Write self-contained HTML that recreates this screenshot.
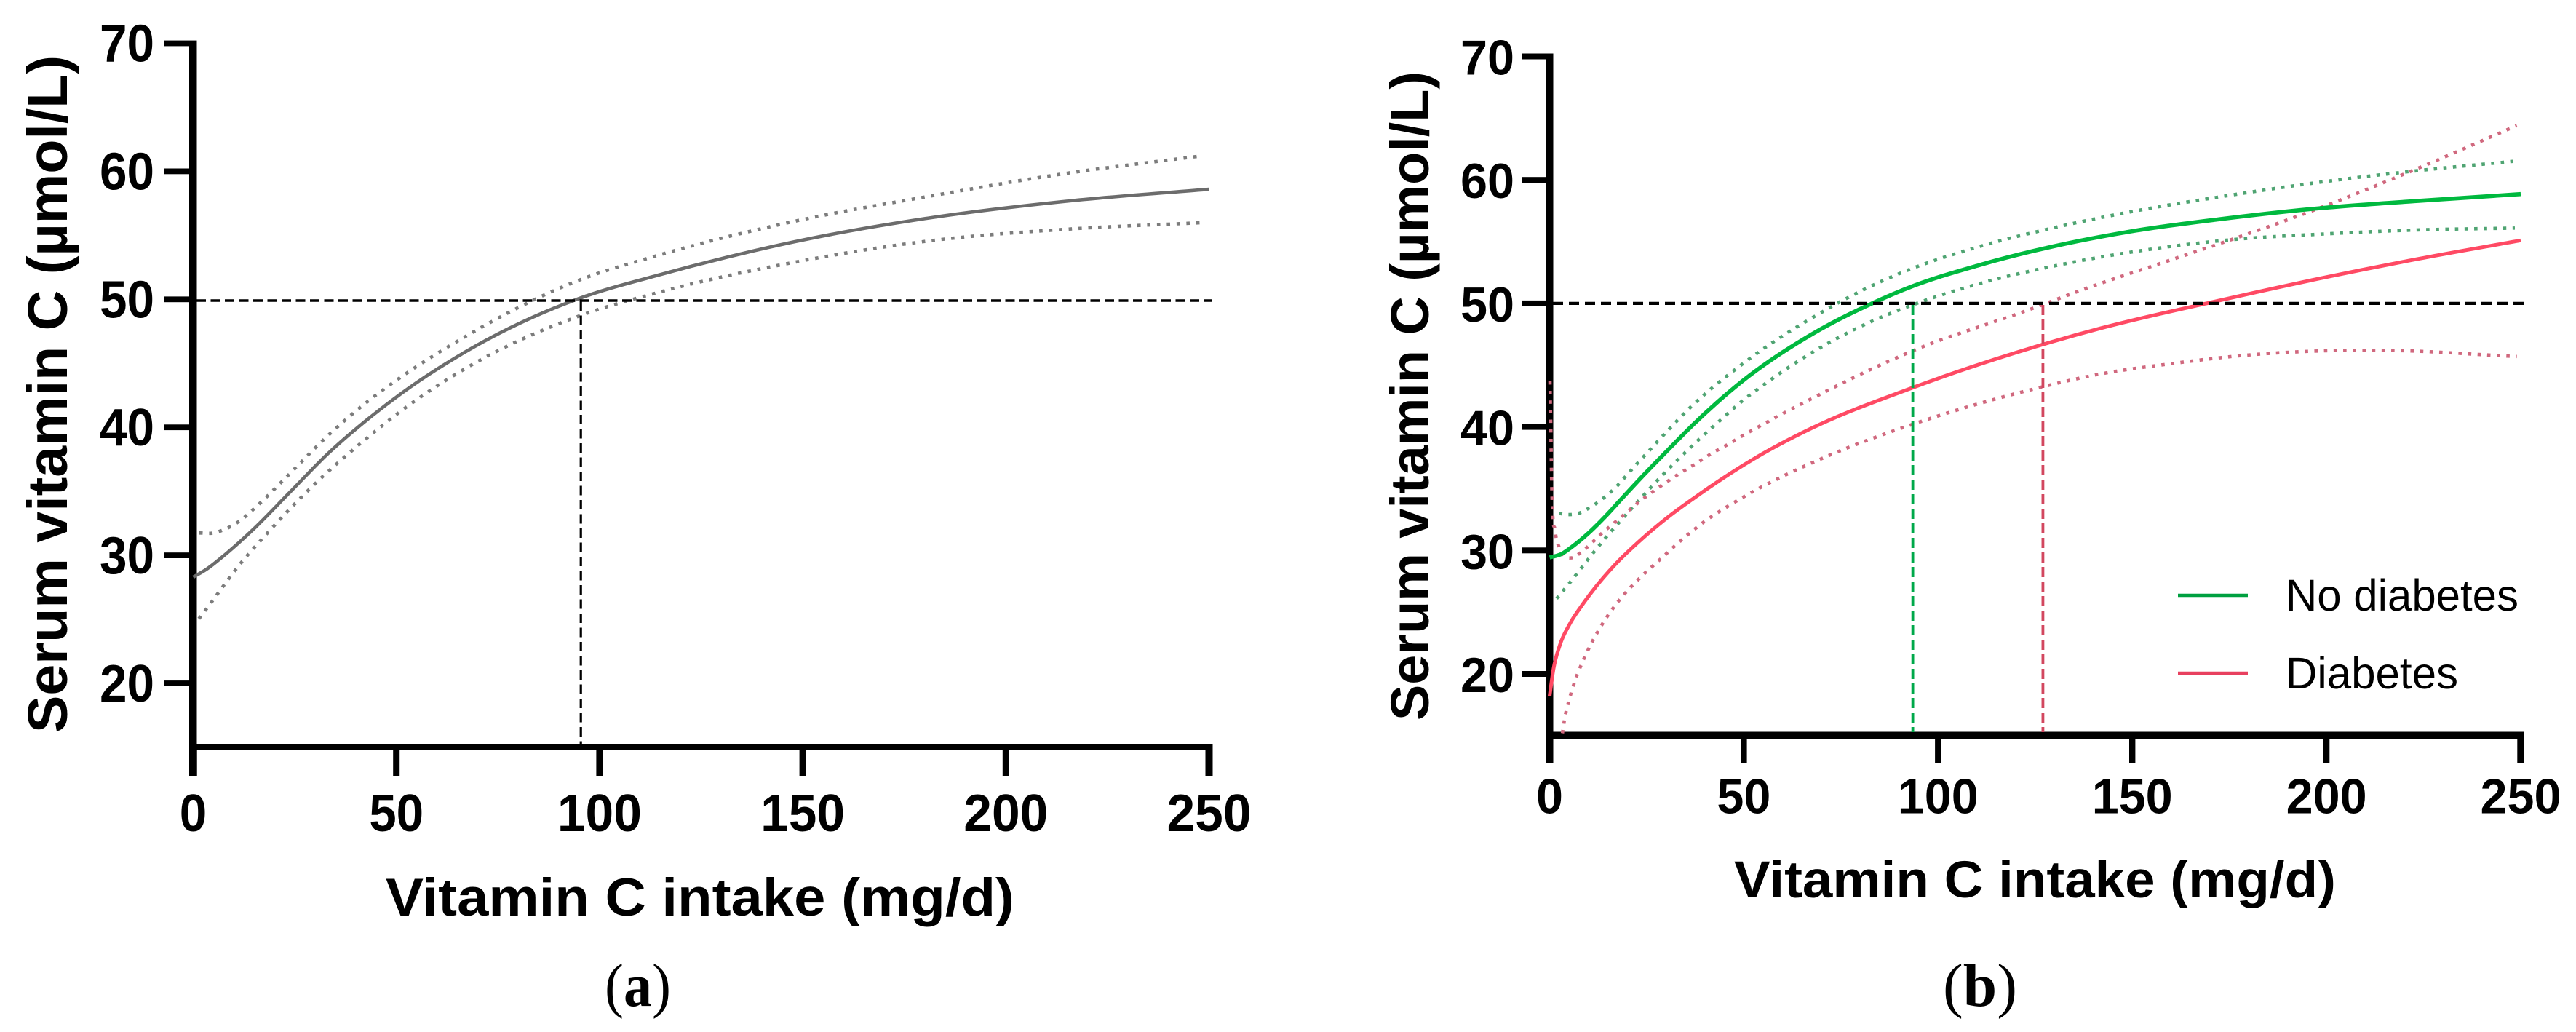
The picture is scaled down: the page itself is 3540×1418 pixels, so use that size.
<!DOCTYPE html>
<html lang="en">
<head>
<meta charset="utf-8">
<title>Serum vitamin C vs vitamin C intake</title>
<style>
html,body{margin:0;padding:0;background:#fff;}
svg{display:block;}
text{font-family:"Liberation Sans",Arial,sans-serif;fill:#000;}
.cap{font-family:"Liberation Serif","Times New Roman",serif;}
</style>
</head>
<body>
<svg id="root" xmlns="http://www.w3.org/2000/svg" width="3540" height="1418" viewBox="0 0 3540 1418">
  <rect width="3540" height="1418" fill="#fff"/>
  <g id="panelA"></g>
  <g id="panelB"></g>

  <text x="92" y="1007" transform="rotate(-90 92 1007)" font-size="77" font-weight="700" textLength="931" lengthAdjust="spacingAndGlyphs">Serum vitamin C (µmol/L)</text>
  <text x="530" y="1258" font-size="73" font-weight="700" textLength="864" lengthAdjust="spacingAndGlyphs">Vitamin C intake (mg/d)</text>
  <text class="cap" x="831" y="1382" font-size="84" textLength="91" lengthAdjust="spacingAndGlyphs">(<tspan font-weight="700">a</tspan>)</text>

  <text x="1963" y="990" transform="rotate(-90 1963 990)" font-size="74" font-weight="700" textLength="892" lengthAdjust="spacingAndGlyphs">Serum vitamin C (µmol/L)</text>
  <text x="2383" y="1233" font-size="71" font-weight="700" textLength="827" lengthAdjust="spacingAndGlyphs">Vitamin C intake (mg/d)</text>
  <text class="cap" x="2670" y="1382" font-size="84" textLength="102" lengthAdjust="spacingAndGlyphs">(<tspan font-weight="700">b</tspan>)</text>

  <line x1="2993" y1="818" x2="3089" y2="818" stroke="#00a040" stroke-width="4.5"/>
  <text x="3141" y="839" font-size="61" textLength="320" lengthAdjust="spacingAndGlyphs">No diabetes</text>
  <line x1="2993" y1="925" x2="3089" y2="925" stroke="#e8405f" stroke-width="4.5"/>
  <text x="3141" y="946" font-size="61" textLength="237" lengthAdjust="spacingAndGlyphs">Diabetes</text>
</svg>

<script>
// Shared axis data
const xTickValues = [0, 50, 100, 150, 200, 250];
const yTickValues = [20, 30, 40, 50, 60, 70];
const yFloor = 15;
const referenceLevel = 50;

// Panel (a) data
const aMeanX = [0, 3.2, 8, 15, 24, 33, 44, 51, 67, 95, 114, 131.5, 148, 182, 216, 250];
const aMeanY = [28.3, 28.9, 30.1, 32.1, 35, 37.9, 40.9, 42.6, 45.9, 50.07, 51.85, 53.3, 54.5, 56.4, 57.7, 58.6];
const aUpperX = [1.5, 5, 7.5, 11.5, 15.5, 21, 26, 31, 39, 47, 51, 67, 95, 114, 148, 182, 214, 248];
const aUpperY = [31.75, 31.75, 32, 32.7, 33.8, 35.5, 37.1, 38.7, 41, 43, 43.9, 47.1, 51.5, 53.4, 56.1, 58.1, 59.8, 61.2];
const aLowerX = [1.4, 4.4, 7.4, 12, 17, 24, 31, 38.4, 46, 50, 67, 95, 114, 148, 182, 216, 249];
const aLowerY = [25.05, 26.3, 27.6, 29.5, 31.3, 33.7, 35.9, 38, 40, 41, 44.6, 48.7, 50.5, 52.9, 54.6, 55.5, 56];
const aCrossing = 95.4;

// Panel (b) data
const bGreenX = [0, 3, 6, 10, 14.5, 18, 24.5, 31, 37, 43, 50, 67.5, 83, 93.5, 110.6, 129.4, 151, 172, 198, 223.5, 250];
const bGreenY = [29.43, 29.7, 30.35, 31.4, 32.8, 34, 36.2, 38.3, 40.2, 41.95, 43.8, 47.5, 50, 51.4, 53.1, 54.6, 55.9, 56.8, 57.7, 58.3, 58.85];
const bGreenUpperX = [2.4, 4.8, 7.4, 10, 13.7, 17.3, 20.7, 25.7, 31, 36.3, 42, 48, 54, 68.5, 77, 90.7, 110.6, 129.4, 151, 172, 198, 225, 248];
const bGreenUpperY = [33, 32.9, 33, 33.4, 34.2, 35.2, 36.4, 38.1, 39.9, 41.6, 43.2, 44.7, 46.1, 49, 50.5, 52.5, 54.6, 56.1, 57.5, 58.6, 59.8, 60.8, 61.5];
const bGreenLowerX = [1.8, 5.1, 8.1, 11.1, 14.5, 17.7, 23, 28, 33.2, 38.5, 43.8, 49.6, 55.5, 68.5, 80.5, 92.8, 110.6, 129.4, 155, 177, 198, 223.5, 248.5];
const bGreenLowerY = [26.1, 27.35, 28.55, 29.75, 31.05, 32.2, 34.05, 35.75, 37.4, 39, 40.5, 42.1, 43.5, 46.2, 48.2, 49.8, 51.6, 53, 54.4, 55.2, 55.6, 55.95, 56.1];
const bRedX = [0, 1, 2.6, 5.1, 8.2, 11, 17, 24, 30.7, 37, 44.4, 52.5, 67.5, 92.8, 129.4, 142, 170.5, 198, 223.5, 250];
const bRedY = [18.2, 20.4, 22.3, 24, 25.5, 26.7, 28.9, 31, 32.75, 34.2, 35.8, 37.4, 39.9, 43.1, 46.9, 48, 50.1, 52, 53.6, 55.1];
const bRedUpperX = [0.1, 0.3, 0.5, 0.85, 1.3, 1.7, 2.4, 3.7, 5.7, 7.9, 9.8, 13.5, 17.3, 21, 25, 29, 33.3, 37.5, 42, 46, 50.3, 54.6, 71.9, 81.6, 93, 123.5, 138, 154, 175.8, 198, 224, 249];
const bRedUpperY = [43.7, 40, 36, 32.6, 31.8, 31, 30.3, 29.6, 29.4, 29.8, 30.3, 31.4, 32.4, 33.4, 34.4, 35.3, 36.2, 37, 37.9, 38.6, 39.4, 40.15, 43, 44.5, 46.1, 49.5, 51.2, 52.9, 55.2, 57.7, 61, 64.4];
const bRedLowerX = [3.3, 4, 4.6, 5.2, 6.6, 8.5, 10.8, 13.5, 18, 23, 28.2, 33.8, 39.7, 46, 50.3, 72, 92.4, 125, 142, 159.5, 179, 198, 215, 249];
const bRedLowerY = [15.2, 16.6, 17.4, 18.1, 19.5, 21, 22.5, 24, 26, 27.7, 29.2, 30.8, 32.3, 33.6, 34.4, 37.7, 40.1, 43.1, 44.3, 45.1, 45.8, 46.15, 46.2, 45.7];
const bGreenCrossing = 93.5;
const bRedCrossing = 127;

const SVG_NS = 'http://www.w3.org/2000/svg';

function axisFn(domainA, pixelA, domainB, pixelB) {
  const k = (pixelB - pixelA) / (domainB - domainA);
  return function (v) { return pixelA + (v - domainA) * k; };
}

function addNode(parent, tag, attrs, label) {
  const el = document.createElementNS(SVG_NS, tag);
  for (const key in attrs) el.setAttribute(key, attrs[key]);
  
  
  parent.appendChild(el);
  return el;
}

// Cubic through the points, tangents weighted for uneven spacing
function smoothPath(xs, ys, sx, sy) {
  const px = xs.map(sx);
  const py = ys.map(sy);
  const n = px.length;
  const slopes = [];
  for (let i = 0; i < n - 1; i++) slopes.push((py[i + 1] - py[i]) / (px[i + 1] - px[i]));
  const m = [];
  for (let i = 0; i < n; i++) {
    if (i === 0) m.push(slopes[0]);
    else if (i === n - 1) m.push(slopes[n - 2]);
    else {
      const h0 = px[i] - px[i - 1];
      const h1 = px[i + 1] - px[i];
      m.push((slopes[i - 1] * h1 + slopes[i] * h0) / (h0 + h1));
    }
  }
  let d = 'M' + px[0].toFixed(1) + ' ' + py[0].toFixed(1);
  for (let i = 0; i < n - 1; i++) {
    const h = (px[i + 1] - px[i]) / 3;
    d += 'C' + (px[i] + h).toFixed(2) + ' ' + (py[i] + m[i] * h).toFixed(2) + ' ' +
      (px[i + 1] - h).toFixed(2) + ' ' + (py[i + 1] - m[i + 1] * h).toFixed(2) + ' ' +
      px[i + 1].toFixed(2) + ' ' + py[i + 1].toFixed(2);
  }
  return d;
}

function drawSeries(parent, xs, ys, sx, sy, color, width, dash, label) {
  const attrs = { d: smoothPath(xs, ys, sx, sy), fill: 'none', stroke: color, 'stroke-width': width };
  if (dash) attrs['stroke-dasharray'] = dash;
  addNode(parent, 'path', attrs, label);
}

function drawAxes(parent, prefix, sx, sy, g) {
  addNode(parent, 'rect', { x: g.spineX, y: sy(70) - g.yTickW / 2, width: g.spineW, height: g.bottomY - sy(70) + g.yTickW / 2, fill: '#000' }, prefix + '-y-axis-line');
  addNode(parent, 'rect', { x: g.spineX, y: g.xLineY, width: sx(250) + g.xTickW / 2 - g.spineX, height: g.xLineH, fill: '#000' }, prefix + '-x-axis-line');
  yTickValues.forEach(function (v) {
    addNode(parent, 'rect', { x: g.yTickX, y: sy(v) - g.yTickW / 2, width: g.spineX - g.yTickX, height: g.yTickW, fill: '#000' }, prefix + '-y-tick-' + v);
    const t = addNode(parent, 'text', { x: g.yLabelX, y: sy(v) + 25, 'font-size': g.font, 'font-weight': 700, 'text-anchor': 'end', textLength: g.w2, lengthAdjust: 'spacingAndGlyphs' }, prefix + '-y-tick-label-' + v);
    t.textContent = String(v);
  });
  xTickValues.forEach(function (v) {
    const tickW = v === 0 ? g.spineW : (v === 250 ? g.xTickW + 1 : g.xTickW);
    addNode(parent, 'rect', { x: sx(v) - tickW / 2, y: g.xLineY, width: tickW, height: g.bottomY - g.xLineY, fill: '#000' }, prefix + '-x-tick-' + v);
    const s = String(v);
    const w = s.length === 1 ? g.w2 / 2 : (s.length === 2 ? g.w2 : g.w3);
    const t = addNode(parent, 'text', { x: sx(v) - w / 2, y: g.xLabelY, 'font-size': g.font, 'font-weight': 700, textLength: w, lengthAdjust: 'spacingAndGlyphs' }, prefix + '-x-tick-label-' + v);
    t.textContent = s;
  });
}

// ---- Panel (a)
const panelA = document.getElementById('panelA');
const ax = axisFn(0, 265.5, 250, 1661.5);
const ay = axisFn(20, 939, 70, 59.5);
drawAxes(panelA, 'panel-a', ax, ay, {
  spineX: 260, spineW: 10.5, bottomY: 1066, xLineY: 1022, xLineH: 8.8,
  yTickX: 226, yTickW: 7.8, xTickW: 9, yLabelX: 212, xLabelY: 1142,
  font: 72, w2: 75, w3: 116
});
drawSeries(panelA, aUpperX, aUpperY, ax, ay, '#7c7c7c', 4.6, '4.6 8.9', 'panel-a-upper-ci');
drawSeries(panelA, aLowerX, aLowerY, ax, ay, '#7c7c7c', 4.6, '4.6 8.9', 'panel-a-lower-ci');
drawSeries(panelA, aMeanX, aMeanY, ax, ay, '#6c6c6c', 4.6, null, 'panel-a-mean-curve');
addNode(panelA, 'line', { x1: 270, x2: 1666, y1: 413, y2: 413, stroke: '#000', 'stroke-width': 3.6, 'stroke-dasharray': '13 6.5' }, 'panel-a-threshold-line');
addNode(panelA, 'line', { x1: ax(aCrossing), x2: ax(aCrossing), y1: 414, y2: 1022, stroke: '#000', 'stroke-width': 3.2, 'stroke-dasharray': '13 6.5' }, 'panel-a-crossing-line');

// ---- Panel (b)
const panelB = document.getElementById('panelB');
const bx = axisFn(0, 2129.5, 250, 3464);
const by = axisFn(20, 926, 70, 77.5);
drawAxes(panelB, 'panel-b', bx, by, {
  spineX: 2124.7, spineW: 9.8, bottomY: 1048.5, xLineY: 1005.5, xLineH: 9.8,
  yTickX: 2092, yTickW: 8, xTickW: 8.4, yLabelX: 2081, xLabelY: 1117.5,
  font: 68, w2: 74, w3: 111
});
drawSeries(panelB, bGreenUpperX, bGreenUpperY, bx, by, '#4fa472', 4.6, '4.6 8.6', 'panel-b-no-diabetes-upper-ci');
drawSeries(panelB, bGreenLowerX, bGreenLowerY, bx, by, '#4fa472', 4.6, '4.6 8.6', 'panel-b-no-diabetes-lower-ci');
drawSeries(panelB, bRedUpperX, bRedUpperY, bx, by, '#d0687e', 4.6, '4.6 8.6', 'panel-b-diabetes-upper-ci');
drawSeries(panelB, bRedLowerX, bRedLowerY, bx, by, '#d0687e', 4.6, '4.6 8.6', 'panel-b-diabetes-lower-ci');
drawSeries(panelB, bGreenX, bGreenY, bx, by, '#00b93f', 5.6, null, 'panel-b-no-diabetes-curve');
drawSeries(panelB, bRedX, bRedY, bx, by, '#ff4a64', 5, null, 'panel-b-diabetes-curve');
addNode(panelB, 'line', { x1: 2134, x2: 3472, y1: by(referenceLevel), y2: by(referenceLevel), stroke: '#000', 'stroke-width': 4.2, 'stroke-dasharray': '14 8' }, 'panel-b-threshold-line');
addNode(panelB, 'line', { x1: bx(bGreenCrossing), x2: bx(bGreenCrossing), y1: 419, y2: 1006, stroke: '#00a84a', 'stroke-width': 3.8, 'stroke-dasharray': '14 6' }, 'panel-b-no-diabetes-crossing-line');
addNode(panelB, 'line', { x1: bx(bRedCrossing), x2: bx(bRedCrossing), y1: 419, y2: 1006, stroke: '#d2475f', 'stroke-width': 3.8, 'stroke-dasharray': '14 6' }, 'panel-b-diabetes-crossing-line');
</script>
</body>
</html>
